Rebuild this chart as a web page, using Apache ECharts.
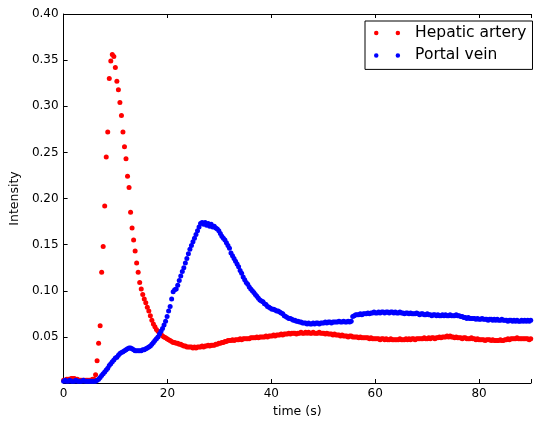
<!DOCTYPE html>
<html><head><meta charset="utf-8">
<script src="https://cdn.jsdelivr.net/npm/echarts@6/dist/echarts.min.js"></script>
<style>html,body{margin:0;padding:0;background:#fff}#chart{width:534px;height:423px}</style>
</head><body><div id="chart"></div>
<script>
// sampling interval of the acquisition (seconds)
const timeStep = 0.293;

const seriesNames = ['Hepatic artery', 'Portal vein'];

const hepaticArtery = [
0.003,0.003,0.004,0.004,0.004,0.005,0.005,0.005,0.004,0.004,
0.003,0.003,0.003,0.003,0.003,0.003,0.003,0.003,0.003,0.004,
0.004,0.009,0.024,0.043,0.062,0.120,0.148,0.192,0.245,0.272,
0.330,0.349,0.356,0.354,0.342,0.327,0.318,0.304,0.290,0.272,
0.256,0.243,0.224,0.212,0.185,0.168,0.155,0.143,0.130,0.120,
0.109,0.102,0.096,0.091,0.087,0.082,0.078,0.073,0.068,0.064,
0.061,0.058,0.056,0.055,0.053,0.051,0.050,0.049,0.048,0.047,
0.046,0.045,0.044,0.044,0.043,0.043,0.042,0.042,0.041,0.040,
0.040,0.039,0.039,0.039,0.039,0.038,0.039,0.038,0.039,0.039,
0.039,0.040,0.039,0.040,0.040,0.041,0.040,0.041,0.041,0.041,
0.042,0.042,0.043,0.043,0.044,0.044,0.045,0.045,0.046,0.046,
0.046,0.047,0.046,0.047,0.047,0.047,0.048,0.047,0.048,0.048,
0.048,0.048,0.048,0.049,0.049,0.049,0.049,0.050,0.049,0.050,
0.050,0.050,0.050,0.051,0.050,0.051,0.051,0.051,0.052,0.051,
0.052,0.052,0.052,0.053,0.052,0.053,0.053,0.053,0.054,0.053,
0.054,0.054,0.054,0.053,0.054,0.054,0.055,0.054,0.054,0.055,
0.054,0.055,0.054,0.054,0.055,0.054,0.054,0.054,0.055,0.054,
0.054,0.054,0.053,0.054,0.053,0.053,0.053,0.052,0.053,0.052,
0.052,0.052,0.051,0.052,0.051,0.051,0.051,0.050,0.051,0.051,
0.050,0.050,0.050,0.050,0.049,0.050,0.049,0.049,0.049,0.049,
0.049,0.048,0.049,0.048,0.048,0.048,0.048,0.048,0.047,0.048,
0.048,0.047,0.048,0.047,0.047,0.048,0.047,0.047,0.047,0.047,
0.047,0.048,0.047,0.047,0.047,0.048,0.047,0.048,0.047,0.048,
0.048,0.047,0.048,0.048,0.048,0.048,0.048,0.049,0.048,0.048,
0.049,0.048,0.049,0.049,0.048,0.049,0.049,0.050,0.049,0.050,
0.050,0.050,0.051,0.050,0.051,0.050,0.050,0.049,0.050,0.049,
0.049,0.049,0.048,0.049,0.049,0.048,0.048,0.048,0.049,0.048,
0.048,0.047,0.048,0.047,0.047,0.047,0.047,0.046,0.047,0.047,
0.047,0.046,0.047,0.046,0.046,0.046,0.046,0.047,0.046,0.046,
0.047,0.047,0.048,0.047,0.048,0.048,0.048,0.048,0.049,0.048,
0.048,0.048,0.048,0.048,0.048,0.048,0.047,0.048
];

const portalVein = [
0.002,0.003,0.002,0.002,0.003,0.002,0.002,0.002,0.003,0.002,
0.002,0.002,0.002,0.003,0.002,0.002,0.002,0.002,0.002,0.002,
0.002,0.002,0.003,0.004,0.006,0.008,0.010,0.012,0.014,0.016,
0.019,0.021,0.023,0.025,0.027,0.028,0.030,0.032,0.033,0.034,
0.035,0.036,0.037,0.038,0.038,0.037,0.036,0.035,0.035,0.035,
0.035,0.035,0.036,0.036,0.037,0.038,0.039,0.040,0.042,0.044,
0.046,0.048,0.050,0.053,0.056,0.059,0.063,0.067,0.072,0.078,
0.083,0.091,0.099,0.101,0.102,0.106,0.111,0.116,0.121,0.125,
0.130,0.135,0.140,0.145,0.149,0.153,0.157,0.161,0.165,0.169,
0.173,0.174,0.172,0.174,0.171,0.173,0.170,0.172,0.169,0.170,
0.168,0.167,0.165,0.162,0.159,0.157,0.155,0.152,0.149,0.146,
0.141,0.138,0.135,0.132,0.129,0.126,0.122,0.119,0.115,0.112,
0.109,0.107,0.104,0.102,0.100,0.098,0.096,0.094,0.092,0.090,
0.089,0.088,0.086,0.085,0.083,0.082,0.081,0.080,0.080,0.079,
0.078,0.078,0.077,0.076,0.075,0.073,0.072,0.071,0.070,0.070,
0.069,0.068,0.068,0.067,0.067,0.066,0.066,0.065,0.065,0.065,
0.064,0.065,0.064,0.064,0.065,0.064,0.065,0.065,0.064,0.065,
0.065,0.065,0.066,0.065,0.066,0.066,0.065,0.066,0.066,0.066,
0.066,0.067,0.066,0.066,0.067,0.066,0.066,0.067,0.066,0.067,
0.072,0.073,0.074,0.074,0.074,0.075,0.074,0.075,0.075,0.075,
0.076,0.075,0.076,0.076,0.077,0.076,0.076,0.077,0.076,0.077,
0.077,0.076,0.077,0.077,0.076,0.077,0.077,0.076,0.077,0.076,
0.076,0.077,0.076,0.076,0.075,0.076,0.076,0.075,0.076,0.075,
0.075,0.075,0.076,0.075,0.074,0.075,0.075,0.074,0.074,0.075,
0.074,0.074,0.073,0.074,0.074,0.073,0.074,0.073,0.073,0.074,
0.073,0.074,0.073,0.073,0.074,0.073,0.073,0.073,0.074,0.073,
0.073,0.072,0.072,0.071,0.071,0.070,0.071,0.070,0.070,0.070,
0.070,0.069,0.070,0.069,0.069,0.070,0.069,0.069,0.069,0.068,
0.069,0.069,0.068,0.069,0.068,0.069,0.068,0.068,0.069,0.068,
0.068,0.068,0.067,0.068,0.068,0.067,0.068,0.067,0.068,0.067,
0.067,0.068,0.067,0.068,0.067,0.068,0.067,0.068
];

const xTickLabels = [0, 20, 40, 60, 80];
const yTickLabels = [0.05, 0.10, 0.15, 0.20, 0.25, 0.30, 0.35, 0.40];

const font = 'DejaVu Sans';
const ink = '#000';

function toPoints(values) {
  return values.map((v, i) => [+(i * timeStep).toFixed(3), v]);
}

const legendIcon = 'path://M0,2.25a2.25,2.25 0 1,0 4.5,0a2.25,2.25 0 1,0 -4.5,0M21.6,2.25a2.25,2.25 0 1,0 4.5,0a2.25,2.25 0 1,0 -4.5,0';

const axisLineStyle = { show: true, onZero: false, lineStyle: { color: ink, width: 1 } };
const tickStyle = { show: true, inside: true, length: 4, lineStyle: { color: ink, width: 1 } };

const chart = echarts.init(document.getElementById('chart'), null, { renderer: 'canvas' });
chart.setOption({
  animation: false,
  backgroundColor: '#fff',
  textStyle: { fontFamily: font },
  grid: { left: 62, right: -4.5, top: 14, bottom: 40 },
  legend: {
    data: seriesNames,
    left: 365, top: 21, orient: 'vertical',
    padding: [3, 6, 5, 9], itemGap: 4.4,
    itemWidth: 26.1, itemHeight: 4.5,
    icon: legendIcon,
    backgroundColor: '#fff', borderColor: ink, borderWidth: 1, borderRadius: 0,
    selectedMode: false,
    textStyle: { fontFamily: font, fontSize: 15.5, color: ink, lineHeight: 18, padding: [0, 0, 0, 10] }
  },
  xAxis: [{
    type: 'value', min: 0, max: 90, interval: 20, position: 'bottom',
    name: 'time (s)', nameLocation: 'middle', nameGap: 22,
    nameTextStyle: { fontFamily: font, fontSize: 12.5, color: ink },
    axisLine: axisLineStyle, axisTick: tickStyle,
    axisLabel: { color: ink, fontFamily: font, fontSize: 12, margin: 5,
      formatter: v => xTickLabels.some(t => Math.abs(t - v) < 1e-6) ? String(Math.round(v)) : '' },
    splitLine: { show: false }
  }, {
    type: 'value', min: 0, max: 90, interval: 20, position: 'top',
    axisLine: axisLineStyle, axisTick: tickStyle,
    axisLabel: { show: false }, splitLine: { show: false }
  }],
  yAxis: [{
    type: 'value', min: 0, max: 0.4, interval: 0.05,
    name: 'Intensity', nameLocation: 'middle', nameGap: 37,
    nameTextStyle: { fontFamily: font, fontSize: 12.5, color: ink },
    axisLine: axisLineStyle, axisTick: tickStyle,
    axisLabel: { color: ink, fontFamily: font, fontSize: 12, margin: 5,
      formatter: v => yTickLabels.some(t => Math.abs(t - v) < 1e-6) ? v.toFixed(2) : '' },
    splitLine: { show: false }
  }],
  series: [{
    name: seriesNames[0], type: 'scatter', symbol: 'circle', symbolSize: 5,
    itemStyle: { color: '#ff0000', opacity: 1 }, silent: true,
    data: toPoints(hepaticArtery)
  }, {
    name: seriesNames[1], type: 'scatter', symbol: 'circle', symbolSize: 5,
    itemStyle: { color: '#0000ff', opacity: 1 }, silent: true,
    data: toPoints(portalVein)
  }]
});
</script>
</body></html>
